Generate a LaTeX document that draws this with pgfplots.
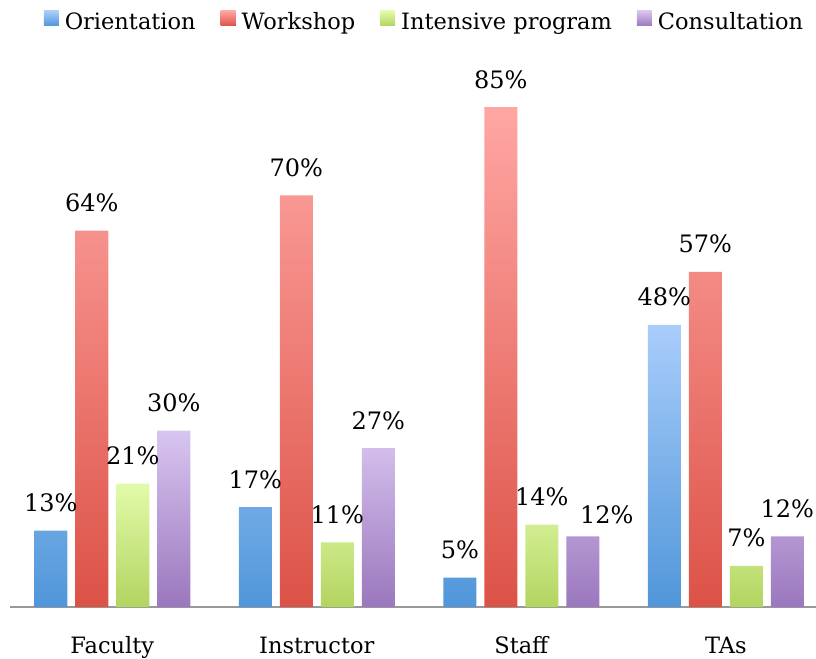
\documentclass[border=0pt]{standalone}
\usepackage{pgfplots}
\pgfplotsset{compat=1.18}
\usepackage{fontspec}
\setmainfont{DejaVu Serif}
\definecolor{bT}{HTML}{A9CDFB}\definecolor{bB}{HTML}{5096D9}
\definecolor{rT}{HTML}{FFA6A3}\definecolor{rB}{HTML}{DC5247}
\definecolor{gT}{HTML}{E2FBAA}\definecolor{gB}{HTML}{B2D460}
\definecolor{pT}{HTML}{D8C5F0}\definecolor{pB}{HTML}{9B77BD}
\begin{document}
\fontsize{22.5bp}{26bp}\selectfont
\begin{tikzpicture}
\useasboundingbox (0,0) rectangle (816bp,659bp);
\begin{axis}[
  at={(10bp,52bp)}, anchor=south west,
  scale only axis, width=806bp, height=588bp,
  xmin=-0.5, xmax=3.441, ymin=0, ymax=100,
  clip=false,
  axis x line=bottom, axis y line=none,
  x axis line style={draw=black!40, line width=2bp, -},
  xtick={0,1,2,3}, xticklabels={Faculty,Instructor,Staff,TAs},
  major tick length=0pt,
  xticklabel style={anchor=base, yshift=-46bp, inner sep=0pt},
  ybar=8bp, bar width=33bp,
  /pgf/number format/assume math mode=true,
  nodes near coords={\pgfmathprintnumber{\pgfplotspointmeta}\%},
  every node near coord/.append style={anchor=base, yshift=19bp, inner sep=0pt, black, font=\fontsize{24bp}{28bp}\selectfont},
  legend columns=4,
  legend style={at={(0.513,0.998)}, anchor=center, draw=none, fill=none,
    /tikz/every even column/.append style={column sep=25bp},
    nodes={inner sep=0pt, anchor=west, text depth=0pt}},
  legend image code/.code={\fill[#1] (0bp,-5bp) rectangle (15bp,10bp);},
  legend cell align=left,
]
\addplot[draw=none, top color=bT, bottom color=bB] coordinates {(0,13) (1,17) (2,5) (3,48)};
\addplot[draw=none, top color=rT, bottom color=rB] coordinates {(0,64) (1,70) (2,85) (3,57)};
\addplot[draw=none, top color=gT, bottom color=gB] coordinates {(0,21) (1,11) (2,14) (3,7)};
\addplot[draw=none, top color=pT, bottom color=pB,
  visualization depends on={\thisrow{dx}\as\dx},
  visualization depends on={\thisrow{dy}\as\dy},
  every node near coord/.append style={xshift=\dx bp, yshift=\dy bp}]
  table[x=x, y=y, row sep=\\] {x y dx dy\\ 0 30 0 0\\ 1 27 0 0\\ 2 12 24 -6\\ 3 12 0 0\\};
\legend{\hspace{6bp}Orientation,\hspace{6bp}Workshop,\hspace{6bp}Intensive program,\hspace{6bp}Consultation}
\end{axis}
\end{tikzpicture}
\end{document}
